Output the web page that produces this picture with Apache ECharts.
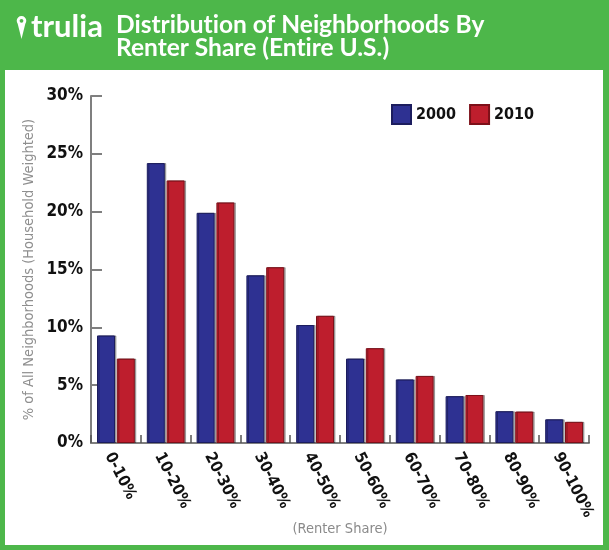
<!DOCTYPE html>
<html>
<head>
<meta charset="utf-8">
<script src="https://cdn.jsdelivr.net/npm/echarts@6/dist/echarts.min.js"></script>
<style>html,body{margin:0;padding:0;background:#fff}#c{width:609px;height:550px}</style>
</head>
<body>
<div id="c"></div>
<script>
var categories = ['0-10%', '10-20%', '20-30%', '30-40%', '40-50%', '50-60%', '60-70%', '70-80%', '80-90%', '90-100%'];
var values2000 = [9.3, 24.2, 19.9, 14.5, 10.2, 7.3, 5.5, 4.05, 2.75, 2.05];
var values2010 = [7.3, 22.7, 20.8, 15.2, 11.0, 8.2, 5.8, 4.15, 2.72, 1.83];
var yTicks = [0, 5, 10, 15, 20, 25, 30];

var GREEN = '#4DB74A';
var COND = '"DejaVu Sans Condensed","Liberation Sans Narrow",sans-serif';

var chart = echarts.init(document.getElementById('c'));
chart.setOption({
  backgroundColor: '#ffffff',
  animation: false,
  title: {
    text: 'Distribut\u200Cion of Neighborhoods By\nRenter Share (Ent\u200Cire U.S.)',
    left: 111, top: 9,
    textStyle: { color: '#fff', fontFamily: 'Lato, sans-serif', fontWeight: 'bold', fontSize: 24.5, lineHeight: 22.5 }
  },
  legend: {
    left: 386, top: 99,
    itemWidth: 19, itemHeight: 19, itemGap: 13,
    icon: 'rect',
    textStyle: { fontFamily: COND, fontWeight: 'bold', fontSize: 16, color: '#111' },
    data: ['2000', '2010']
  },
  grid: { left: 91, right: 20, top: 96, bottom: 107, containLabel: false, outerBoundsMode: 'none' },
  xAxis: {
    type: 'category',
    data: categories,
    name: '(Renter Share)',
    nameLocation: 'middle',
    nameGap: 79,
    nameMoveOverlap: false,
    nameTextStyle: { fontFamily: COND, fontSize: 14.5, color: '#8a8a8a', verticalAlign: 'top' },
    axisLine: { lineStyle: { color: '#7f7f7f', width: 2 } },
    axisTick: { show: true, inside: true, length: 8, interval: 0, lineStyle: { color: '#555', width: 1.5 } },
    axisLabel: { interval: 0, rotate: -63, margin: 7, align: 'left', verticalAlign: 'top', fontFamily: COND, fontWeight: 'bold', fontSize: 16, color: '#111' }
  },
  yAxis: {
    type: 'value',
    min: 0, max: 30, interval: 5,
    name: '% of All Neighborhoods (Household Weighted)',
    nameLocation: 'middle',
    nameGap: 54,
    nameRotate: 90,
    nameMoveOverlap: false,
    nameTextStyle: { fontFamily: COND, fontSize: 14.5, color: '#8f8f8f' },
    axisLine: { show: true, lineStyle: { color: '#7f7f7f', width: 2 } },
    axisTick: { show: true, inside: true, length: 11, lineStyle: { color: '#7f7f7f', width: 2 } },
    splitLine: { show: false },
    axisLabel: {
      margin: 8, fontFamily: COND, fontWeight: 'bold', fontSize: 17, color: '#111',
      formatter: function (v) { return yTicks.indexOf(v) >= 0 ? v + '%' : ''; }
    }
  },
  series: [
    {
      name: '2000', type: 'bar', data: values2000,
      barWidth: 18, barGap: '10%',
      itemStyle: { color: '#2E3192', borderColor: '#1c1d5e', borderWidth: 1, shadowColor: 'rgba(0,0,0,0.3)', shadowOffsetX: 1.5, shadowBlur: 0 }
    },
    {
      name: '2010', type: 'bar', data: values2010,
      barWidth: 18, barGap: '10%',
      itemStyle: { color: '#BE1E2D', borderColor: '#7d1019', borderWidth: 1, shadowColor: 'rgba(0,0,0,0.3)', shadowOffsetX: 1.5, shadowBlur: 0 }
    }
  ],
  graphic: {
    elements: [
      { type: 'rect', shape: { x: 0, y: 0, width: 609, height: 70 }, style: { fill: GREEN }, silent: true },
      { type: 'rect', shape: { x: 0, y: 0, width: 5, height: 550 }, style: { fill: GREEN }, silent: true },
      { type: 'rect', shape: { x: 603, y: 0, width: 6, height: 550 }, style: { fill: GREEN }, silent: true },
      { type: 'rect', shape: { x: 0, y: 545, width: 609, height: 5 }, style: { fill: GREEN }, silent: true },
      { type: 'polygon', shape: { points: [[17.6, 23.5], [25.4, 23.5], [21.5, 39]] }, style: { fill: '#fff' }, z: 10, silent: true },
      { type: 'ring', shape: { cx: 21.5, cy: 20.8, r: 4.8, r0: 1.9 }, style: { fill: '#fff' }, z: 11, silent: true },
      { type: 'text', left: 31, top: 11, style: { text: 'trulia', fill: '#fff', font: 'bold 31px Lato, sans-serif' }, z: 10, silent: true }
    ]
  }
});
</script>
</body>
</html>
